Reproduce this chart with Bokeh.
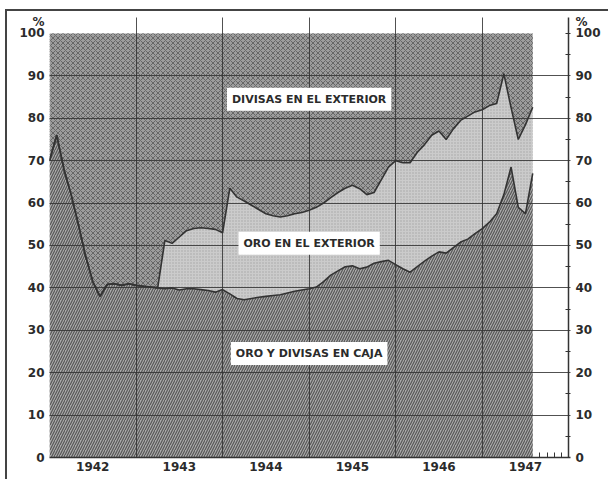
import numpy as np
from bokeh.plotting import figure
from bokeh.models import (ColumnDataSource, Range1d, LinearAxis, FixedTicker,
                          CustomJSTickFormatter, Label, Grid)
from bokeh.embed import file_html
from bokeh.resources import INLINE

# ---------------- data (monthly, Jan 1942 .. Aug 1947), % of total ----------------
start_year = 1942
years = [1942, 1943, 1944, 1945, 1946, 1947]
y_ticks = [0, 10, 20, 30, 40, 50, 60, 70, 80, 90, 100]
pct_mark = 102.8   # where the "%" sign sits above the 100 label

# ORO Y DIVISAS EN CAJA
caja = [70, 76, 68, 62, 55, 47.5, 41.5, 38, 40.8, 41, 40.6, 41,
        40.6, 40.4, 40.2, 40.0, 39.8, 40.0, 39.5, 39.8, 39.8, 39.6, 39.4, 39.0,
        39.6, 38.6, 37.5, 37.2, 37.5, 37.8, 38.0, 38.2, 38.4, 38.8, 39.2, 39.5,
        39.8, 40.2, 41.5, 43.0, 44.0, 45.0, 45.2, 44.5, 44.9, 45.8, 46.2, 46.5,
        45.5, 44.5, 43.7, 45.0, 46.3, 47.5, 48.5, 48.2, 49.5, 50.8, 51.5, 52.8,
        54.0, 55.5, 57.5, 62.0, 68.5, 59.0, 57.5, 67.0]

# ORO EN EL EXTERIOR
oro_exterior = [0, 0, 0, 0, 0, 0, 0, 0, 0, 0, 0, 0,
                0, 0, 0, 0, 11.4, 10.5, 12.5, 13.7, 14.2, 14.6, 14.6, 14.8,
                13.4, 24.9, 23.9, 23.3, 22.0, 20.7, 19.5, 18.8, 18.3, 18.2, 18.3, 18.3,
                18.5, 18.8, 18.5, 18.3, 18.5, 18.5, 19.0, 18.9, 17.1, 16.7, 19.3, 22.0,
                24.5, 25.0, 25.8, 27.0, 27.5, 28.5, 28.5, 26.8, 28.0, 28.7, 29.0, 28.7,
                28.0, 27.5, 26.0, 28.5, 14.0, 16.0, 21.0, 15.6]

# DIVISAS EN EL EXTERIOR (remainder up to 100 %)
divisas_exterior = list(100 - np.array(caja) - np.array(oro_exterior))

area_labels = ["ORO Y DIVISAS EN CAJA", "ORO EN EL EXTERIOR", "DIVISAS EN EL EXTERIOR"]

# ---------------- build ----------------
t = start_year + np.arange(len(caja)) / 12.0
c1 = np.array(caja)
c2 = c1 + np.array(oro_exterior)
c3 = c2 + np.array(divisas_exterior)
src = ColumnDataSource(dict(t=t, y0=np.zeros_like(c1), y1=c1, y2=c2, y3=c3))

FONT = "DejaVu Sans"
INK = "#2b2b2b"
x_end = years[-1] + 1

p = figure(width=608, height=479,
           x_range=Range1d(years[0], x_end + 0.02), y_range=Range1d(y_ticks[0], 103.77),
           output_backend="svg", toolbar_location=None,
           min_border_left=49, min_border_right=38, min_border_top=17, min_border_bottom=22,
           background_fill_color="white", border_fill_color=None,
           outline_line_color=None)
# outer frame of the printed figure (left and top rules)
p.styles = {
    "background-image": "linear-gradient(#444,#444), linear-gradient(#444,#444)",
    "background-size": "2px 100%, 100% 2px",
    "background-position": "5px 9px, 5px 9px",
    "background-repeat": "no-repeat",
}

# areas
p.varea(x='t', y1='y0', y2='y1', source=src, fill_color="#aaaaaa",
        hatch_pattern="/", hatch_color="#575757", hatch_scale=5, hatch_weight=1.2)
p.varea(x='t', y1='y1', y2='y2', source=src, fill_color="#cbcbcb",
        hatch_pattern=".", hatch_color="#a5a5a5", hatch_scale=3, hatch_weight=1)
p.varea(x='t', y1='y2', y2='y3', source=src, fill_color="#9c9c9c",
        hatch_pattern="x", hatch_color="#666666", hatch_scale=5, hatch_weight=1)

# boundary lines
p.line('t', 'y1', source=src, line_color="#333333", line_width=1.6)
p.line('t', 'y2', source=src, line_color="#333333", line_width=1.6)

# grid
p.xgrid.ticker = FixedTicker(ticks=years[1:])
p.xgrid.bounds = (y_ticks[0], y_ticks[-1])
p.ygrid.ticker = FixedTicker(ticks=y_ticks[1:-1])
for g in (p.xgrid[0], p.ygrid[0]):
    g.grid_line_color = "#333333"
    g.grid_line_alpha = 0.85
    g.grid_line_width = 1
    g.level = "guide"

# right-hand scale rule (0 .. 100)
p.center.append(Grid(dimension=0, ticker=FixedTicker(ticks=[x_end]),
                     bounds=(y_ticks[0], y_ticks[-1]), grid_line_color="#333333",
                     grid_line_width=1.5, level="guide"))

pct_fmt = CustomJSTickFormatter(code="return tick > 100 ? '%' : tick.toFixed(0);")

# left axis
la = p.yaxis[0]
la.ticker = FixedTicker(ticks=y_ticks + [pct_mark])
la.formatter = pct_fmt
la.axis_line_color = None
la.major_tick_in = 0
la.major_tick_out = 0
la.minor_tick_line_color = None
la.major_label_standoff = 5

# right axis
ra = LinearAxis(ticker=FixedTicker(ticks=y_ticks + [pct_mark],
                                   minor_ticks=[v + 5 for v in y_ticks[:-1]] + [y_ticks[-1]]),
                formatter=pct_fmt)
ra.axis_line_color = None
ra.major_tick_in = 0
ra.major_tick_out = 0
ra.minor_tick_in = 5
ra.minor_tick_out = 0
ra.minor_tick_line_color = "#333333"
ra.minor_tick_line_width = 1.2
ra.major_label_standoff = 5
p.add_layout(ra, "right")

# bottom axis: year labels at mid-year, monthly minor ticks where there is no data
ba = p.xaxis[0]
months_all = [y + k / 12.0 for y in years for k in range(12)]
ba.ticker = FixedTicker(ticks=[y + 0.5 for y in years],
                        minor_ticks=months_all[len(caja):])
ba.formatter = CustomJSTickFormatter(code="return Math.floor(tick).toFixed(0);")
ba.major_tick_in = 0
ba.major_tick_out = 0
ba.minor_tick_in = 5
ba.minor_tick_out = 0
ba.minor_tick_line_color = "#333333"
ba.axis_line_color = "#333333"
ba.axis_line_width = 1.5
ba.major_label_standoff = 4

for ax in (la, ra, ba):
    ax.major_label_text_font = FONT
    ax.major_label_text_font_style = "bold"
    ax.major_label_text_font_size = "12px"
    ax.major_label_text_color = INK

# area labels in white boxes
label_x = 1945.0
label_y = [24.5, 50.5, 84.5]
for txt, yv in zip(area_labels, label_y):
    p.add_layout(Label(x=label_x, y=yv, text=txt, text_align="center", text_baseline="middle",
                       text_font=FONT, text_font_style="bold", text_font_size="11px",
                       text_color=INK, background_fill_color="white", padding=5))

open("out.html", "w").write(file_html(p, INLINE))
